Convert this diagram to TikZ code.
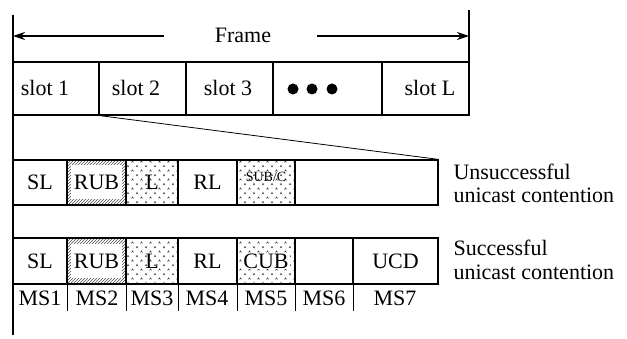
\documentclass[tikz,border=0pt]{standalone}
\usepackage{fontspec}
\setmainfont{Liberation Serif}
\usetikzlibrary{patterns,arrows.meta}

\pgfdeclarepatternformonly{carets}{\pgfpoint{-1pt}{-1pt}}{\pgfpoint{10pt}{10pt}}{\pgfpoint{9pt}{9pt}}{
  \pgfsetlinewidth{0.5pt}
  \pgfpathmoveto{\pgfpoint{1pt}{1pt}}
  \pgfpathlineto{\pgfpoint{2pt}{2.6pt}}
  \pgfpathlineto{\pgfpoint{3pt}{1pt}}
  \pgfpathmoveto{\pgfpoint{5.5pt}{5.5pt}}
  \pgfpathlineto{\pgfpoint{6.5pt}{7.1pt}}
  \pgfpathlineto{\pgfpoint{7.5pt}{5.5pt}}
  \pgfusepath{stroke}
}

\tikzset{
  frameline/.style={line width=1.2pt},
  cell/.style={draw, line width=1.2pt, inner sep=0pt, minimum height=#1},
  hatched/.style={pattern=north east lines, pattern color=black!70},
  dotted cell/.style={pattern=carets, pattern color=black!80},
  blank/.style={fill=white, inner sep=0pt, minimum width=#1, minimum height=34},
  caption/.style={anchor=west, align=left}
}

\begin{document}
\begin{tikzpicture}[x=1pt, y=-1pt, font=\fontsize{22}{24}\selectfont]
    \useasboundingbox (0,0) rectangle (627,339);

    % frame
    \node (frame) at (243,35) {Frame};
    \coordinate (fl) at (13,36);
    \coordinate (fr) at (469,36);
    \draw[frameline] (13,15) -- (13,335);
    \draw[frameline] (469,10) -- (469,62);
    \draw[frameline, -{Stealth[length=12pt, width=8pt]}] (164,36) -- (fl);
    \draw[frameline, -{Stealth[length=12pt, width=8pt]}] (317,36) -- (fr);

    % slots
    \node[cell=53, minimum width=86] (slot1) at (56,88.5) {};
    \node[cell=53, minimum width=87] (slot2) at (142.5,88.5) {};
    \node[cell=53, minimum width=87] (slot3) at (229.5,88.5) {};
    \node[cell=53, minimum width=109] (dots) at (327.5,88.5) {};
    \node[cell=53, minimum width=87] (slotL) at (425.5,88.5) {};

    \node at (45,88) {slot 1};
    \node at (136,88) {slot 2};
    \node at (228,88) {slot 3};
    \node at (430,88) {slot L};
    \foreach \x in {293,312,332}
        \fill (\x,89) circle (5.5);

    % unsuccessful
    \node[cell=45, minimum width=54] (usl) at (40,182.5) {SL};
    \node[cell=45, minimum width=59, hatched] (urub) at (96.5,182.5) {};
    \node[blank=51] at (96.5,182.5) {RUB};
    \node[cell=45, minimum width=52, dotted cell] (ul) at (152,182.5) {L};
    \node[cell=45, minimum width=59] (url) at (207.5,182.5) {RL};
    \node[cell=45, minimum width=58, dotted cell] (usub) at (266,182.5) {};
    \node[font=\fontsize{14}{16}\selectfont] at (266,177) {SUB/C};
    \node[cell=45, minimum width=143] (urest) at (366.5,182.5) {};

    \draw[line width=0.8pt] (slot1.south east) -- (urest.north east);

    \node[caption] (ucap1) at (450,172) {Unsuccessful};
    \node[caption] (ucap2) at (450,195) {unicast contention};

    % successful
    \node[cell=46, minimum width=54] (ssl) at (40,261) {SL};
    \node[cell=46, minimum width=59, hatched] (srub) at (96.5,261) {};
    \node[blank=51] at (96.5,261) {RUB};
    \node[cell=46, minimum width=52, dotted cell] (sl) at (152,261) {L};
    \node[cell=46, minimum width=59] (srl) at (207.5,261) {RL};
    \node[cell=46, minimum width=58, dotted cell] (scub) at (266,261) {};
    \node[fill=white, inner sep=1pt] at (266,261) {CUB};
    \node[cell=46, minimum width=58] (sempty) at (324,261) {};
    \node[cell=46, minimum width=85] (sucd) at (395.5,261) {UCD};

    \node[caption] (scap1) at (450,248) {Successful};
    \node[caption] (scap2) at (450,272) {unicast contention};

    % mini slots
    \foreach \c in {ssl,srub,sl,srl,scub,sempty}
        \draw[frameline] (\c.south east) -- ++(0,26);
    \node at (40,298) {MS1};
    \node at (97,298) {MS2};
    \node at (152,298) {MS3};
    \node at (207,298) {MS4};
    \node at (266,298) {MS5};
    \node at (324,298) {MS6};
    \node at (395,298) {MS7};

\end{tikzpicture}
\end{document}
